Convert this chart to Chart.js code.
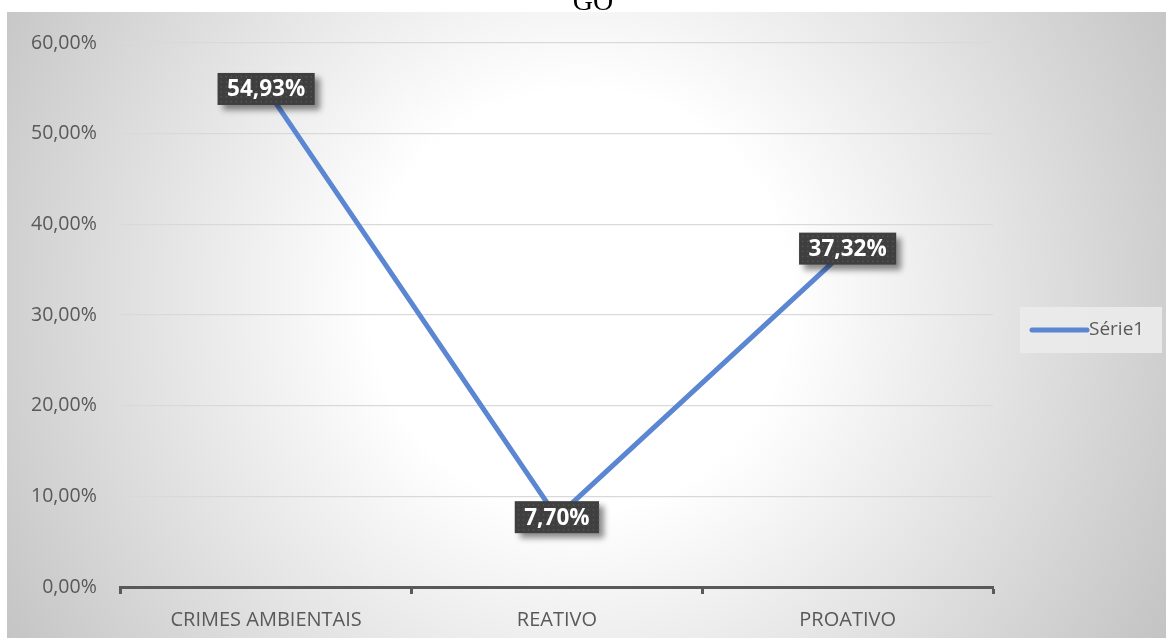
<!DOCTYPE html>
<html>
<head>
<meta charset="utf-8">
<script src="https://cdn.jsdelivr.net/npm/chart.js@4.4.1/dist/chart.umd.min.js"></script>
<style>
  html, body { margin: 0; padding: 0; background: #ffffff; overflow: hidden; }
  #wrap { position: absolute; left: 0; top: -15px; width: 1166px; height: 661px; }
</style>
</head>
<body>
<div id="wrap"><canvas id="chart" width="1166" height="661"></canvas></div>
<script>
const TITLE = "GO";
const categories = ["CRIMES AMBIENTAIS", "REATIVO", "PROATIVO"];
const seriesName = "Série1";
const seriesValues = [54.93, 7.70, 37.32];
const yTicks = [0, 10, 20, 30, 40, 50, 60];

const OFFSET = 15; // canvas is shifted up so the title is cut like the picture
const LINE_COLOR = "#5b87d2";
const FONT = "'Open Sans', 'Noto Sans', sans-serif";

function pct(v) {
  return v.toFixed(2).replace(".", ",") + "%";
}

// radial grey background and cut title
const backgroundPlugin = {
  id: "bg",
  beforeDraw(chart) {
    const ctx = chart.ctx;
    const w = chart.width, h = chart.height;
    ctx.save();
    ctx.fillStyle = "#ffffff";
    ctx.fillRect(0, 0, w, h);
    const x0 = 7, y0 = 12 + OFFSET;
    const g = ctx.createRadialGradient(580, 300 + OFFSET, 0, 580, 300 + OFFSET, 700);
    g.addColorStop(0, "#ffffff");
    g.addColorStop(0.3, "#ffffff");
    g.addColorStop(1, "#c0c0c0");
    ctx.fillStyle = g;
    ctx.fillRect(x0, y0, w - x0, 638 + OFFSET - y0);
    ctx.restore();
  },
  afterDraw(chart) {
    const ctx = chart.ctx;
    ctx.save();
    // the title sits above the grey area and is cut by the page top
    ctx.beginPath();
    ctx.rect(0, 0, chart.width, 12 + OFFSET);
    ctx.clip();
    ctx.fillStyle = "#000000";
    ctx.font = "28px 'Liberation Serif', serif";
    ctx.textAlign = "center";
    ctx.textBaseline = "alphabetic";
    ctx.fillText(TITLE, 593, 10 + OFFSET);
    ctx.restore();

    // legend
    const ds = chart.data.datasets[0];
    const lx = 1020, ly = 307 + OFFSET;
    ctx.save();
    ctx.fillStyle = "rgba(235,235,235,0.9)";
    ctx.fillRect(lx, ly, 142, 46);
    ctx.strokeStyle = ds.borderColor;
    ctx.lineWidth = 5;
    ctx.lineCap = "round";
    ctx.beginPath();
    ctx.moveTo(1032, ly + 23);
    ctx.lineTo(1087, ly + 23);
    ctx.stroke();
    ctx.fillStyle = "#595959";
    ctx.font = "19px " + FONT;
    ctx.textAlign = "left";
    ctx.textBaseline = "middle";
    ctx.fillText(ds.label, 1089, ly + 23);
    ctx.restore();
  }
};

// dark boxed data labels with shadow
const labelPlugin = {
  id: "boxLabels",
  afterDatasetsDraw(chart) {
    const ctx = chart.ctx;
    const meta = chart.getDatasetMeta(0);
    const data = chart.data.datasets[0].data;
    ctx.save();
    ctx.font = "bold 22.5px " + FONT;
    meta.data.forEach(function(pt, i) {
      const text = pct(data[i]);
      const tw = ctx.measureText(text).width;
      const bw = tw + 19, bh = 32;
      const bx = pt.x - bw / 2, by = pt.y - bh / 2;
      ctx.save();
      ctx.shadowColor = "rgba(0,0,0,0.45)";
      ctx.shadowBlur = 6;
      ctx.shadowOffsetX = 5;
      ctx.shadowOffsetY = 5;
      ctx.fillStyle = "#3f3f3f";
      ctx.fillRect(bx, by, bw, bh);
      ctx.restore();
      // dotted texture
      ctx.fillStyle = "#555555";
      for (let yy = by + 3; yy < by + bh - 1; yy += 5) {
        for (let xx = bx + 3; xx < bx + bw - 1; xx += 5) {
          ctx.fillRect(xx, yy, 1.5, 1.5);
        }
      }
      ctx.fillStyle = "#ffffff";
      ctx.textAlign = "center";
      ctx.textBaseline = "middle";
      ctx.fillText(text, pt.x, pt.y + 1);
    });
    ctx.restore();
  }
};

new Chart(document.getElementById("chart").getContext("2d"), {
  type: "line",
  data: {
    labels: categories,
    datasets: [{
      label: seriesName,
      data: seriesValues,
      borderColor: LINE_COLOR,
      backgroundColor: "transparent",
      borderWidth: 5,
      pointRadius: 0,
      tension: 0,
      fill: false
    }]
  },
  options: {
    responsive: false,
    animation: false,
    devicePixelRatio: 1,
    layout: { padding: { left: 7, right: 173, top: 43 + OFFSET, bottom: 0 } },
    plugins: {
      legend: { display: false },
      title: { display: false },
      tooltip: { enabled: false }
    },
    scales: {
      x: {
        type: "category",
        offset: true,
        grid: {
          offset: true,
          drawOnChartArea: false,
          drawTicks: true,
          tickLength: 7,
          tickWidth: 3,
          tickColor: "#595959"
        },
        border: { display: true, color: "#595959", width: 3 },
        ticks: {
          color: "#595959",
          font: { family: FONT, size: 20 },
          padding: 14,
          maxRotation: 0
        }
      },
      y: {
        min: 0,
        max: 60,
        afterBuildTicks(scale) {
          scale.ticks = yTicks.map(function(v) { return { value: v }; });
        },
        grid: {
          color: "#d9d9d9",
          lineWidth: 1.2,
          drawTicks: false
        },
        border: { display: false },
        ticks: {
          color: "#595959",
          font: { family: FONT, size: 19.5 },
          padding: 24,
          callback: function(v) { return pct(v); }
        }
      }
    }
  },
  plugins: [backgroundPlugin, labelPlugin]
});
</script>
</body>
</html>
